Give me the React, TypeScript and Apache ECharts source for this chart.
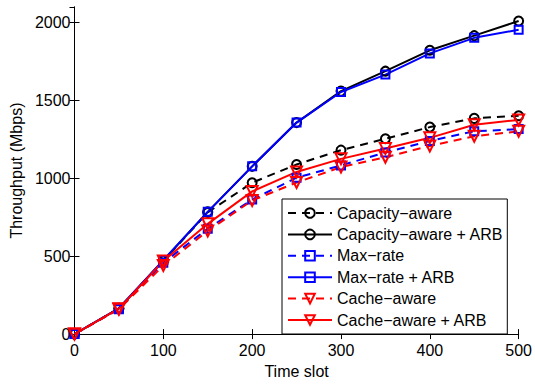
import React, { useEffect, useRef } from "react";
import * as echarts from "echarts";

const timeSlots = [0, 50, 100, 150, 200, 250, 300, 350, 400, 450, 500];
const capacityAware = [0, 165, 470, 781, 972, 1089, 1181, 1254, 1329, 1385, 1402];
const capacityAwareARB = [0, 165, 472, 785, 1077, 1358, 1560, 1688, 1822, 1916, 2010];
const maxRate = [0, 160, 458, 677, 864, 1004, 1083, 1166, 1240, 1302, 1316];
const maxRateARB = [0, 166, 475, 785, 1077, 1358, 1554, 1666, 1802, 1902, 1954];
const cacheAware = [0, 160, 440, 662, 858, 973, 1072, 1135, 1208, 1270, 1302];
const cacheAwareARB = [0, 163, 469, 708, 916, 1041, 1125, 1191, 1260, 1344, 1375];

const seriesNames = [
  "Capacity\u2212aware",
  "Capacity\u2212aware + ARB",
  "Max\u2212rate",
  "Max\u2212rate + ARB",
  "Cache\u2212aware",
  "Cache\u2212aware + ARB",
];

const FONT = "'Liberation Sans', Arial, Helvetica, sans-serif";

export default function App() {
  const ref = useRef<HTMLDivElement>(null);
  useEffect(() => {
    if (!ref.current) return;
    const chart = echarts.init(ref.current, null, { renderer: "svg" });
    const dash = [8, 6];
    const mk = (
      name: string,
      data: number[],
      color: string,
      dashed: boolean,
      symbol: string,
      size: number
    ) => ({
      name,
      type: "line",
      data: timeSlots.map((t, i) => [t, data[i]]),
      symbol,
      symbolSize: size,
      symbolRotate: symbol === "triangle" ? 180 : 0,
      showAllSymbol: true,
      lineStyle: { color, width: 2, type: dashed ? dash : "solid" },
      itemStyle: { color: "rgba(255,255,255,0)", borderColor: color, borderWidth: 2 },
      emphasis: { disabled: true },
    });
    chart.setOption({
      animation: false,
      backgroundColor: "#fff",
      textStyle: { fontFamily: FONT },
      grid: { left: 73, right: 15, top: 7, bottom: 41, containLabel: false },
      legend: {
        orient: "vertical",
        left: 282,
        top: 199,
        data: seriesNames,
        backgroundColor: "#fff",
        borderColor: "#000",
        borderWidth: 1,
        padding: [6, 4, 6, 5],
        itemWidth: 44,
        itemHeight: 12,
        itemGap: 5.4,
        textStyle: { fontSize: 16, color: "#000", fontFamily: FONT },
      },
      xAxis: [
        {
          type: "value",
          min: 0,
          max: 500,
          interval: 100,
          name: "Time slot",
          nameLocation: "middle",
          nameGap: 25,
          nameTextStyle: { fontSize: 16, color: "#000", fontFamily: FONT },
          axisLine: { lineStyle: { color: "#000", width: 1 } },
          axisTick: { inside: true, length: 5, lineStyle: { color: "#000" } },
          axisLabel: { fontSize: 16, color: "#000", margin: 8, fontFamily: FONT },
          splitLine: { show: false },
        },
        {
          type: "value",
          position: "top",
          min: 0,
          max: 500,
          interval: 100,
          axisLine: { show: true, lineStyle: { color: "#000", width: 1 } },
          axisTick: { inside: true, length: 5, lineStyle: { color: "#000" } },
          axisLabel: { show: false },
          splitLine: { show: false },
        },
      ],
      yAxis: [
        {
          type: "value",
          min: 0,
          max: 2100,
          interval: 500,
          name: "Throughput (Mbps)",
          nameLocation: "middle",
          nameGap: 48,
          nameTextStyle: { fontSize: 16, color: "#000", fontFamily: FONT },
          axisLine: { show: true, lineStyle: { color: "#000", width: 1 } },
          axisTick: { inside: true, length: 5, lineStyle: { color: "#000" } },
          axisLabel: {
            fontSize: 16,
            color: "#000",
            margin: 4,
            fontFamily: FONT,
            showMaxLabel: false,
            formatter: (v: number) => (v % 500 === 0 ? String(v) : ""),
          },
          splitLine: { show: false },
        },
        {
          type: "value",
          position: "right",
          min: 0,
          max: 2100,
          interval: 500,
          axisLine: { show: true, lineStyle: { color: "#000", width: 1 } },
          axisTick: { inside: true, length: 5, lineStyle: { color: "#000" } },
          axisLabel: { show: false },
          splitLine: { show: false },
        },
      ],
      series: [
        mk(seriesNames[0], capacityAware, "#000000", true, "circle", 9),
        mk(seriesNames[1], capacityAwareARB, "#000000", false, "circle", 9),
        mk(seriesNames[2], maxRate, "#0000ff", true, "rect", 8),
        mk(seriesNames[3], maxRateARB, "#0000ff", false, "rect", 8),
        mk(seriesNames[4], cacheAware, "#ff0000", true, "triangle", 11),
        mk(seriesNames[5], cacheAwareARB, "#ff0000", false, "triangle", 11),
      ],
    });
    return () => chart.dispose();
  }, []);
  return <div ref={ref} style={{ width: 535, height: 384, position: "absolute", left: 0, top: 0 }} />;
}
